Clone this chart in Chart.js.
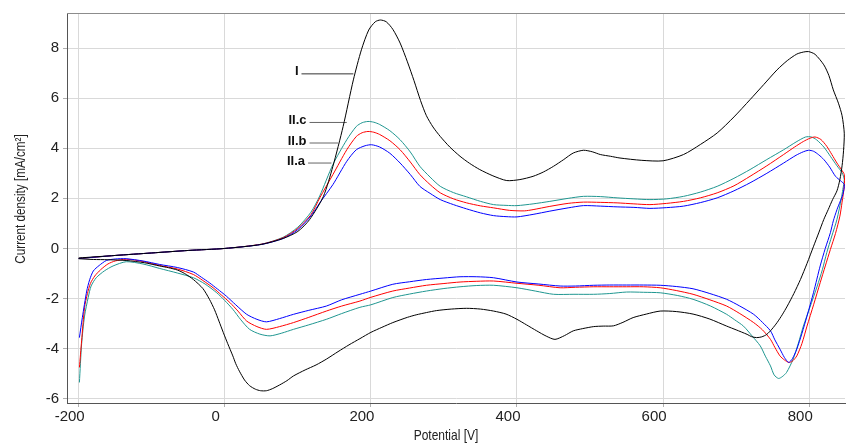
<!DOCTYPE html>
<html>
<head>
<meta charset="utf-8">
<script src="https://cdn.jsdelivr.net/npm/chart.js@4/dist/chart.umd.min.js"></script>
<style>
  html, body { margin: 0; padding: 0; background: #fff; }
  canvas { display: block; }
</style>
</head>
<body>
<canvas id="cv" width="846" height="445"></canvas>
<script>
// Axis ticks
const xTicks = [-200, 0, 200, 400, 600, 800];
const yTicks = [-6, -4, -2, 0, 2, 4, 6, 8];

// Curve I (black) - forward scan then reverse scan, [potential, current density]
const curveI = [
    [-200,-0.38],[-150,-0.28],[-100,-0.18],[-50,-0.08],[0,0],[50,0.16],[80,0.4],[100,0.68],[116,1.15],[135,2.08],
    [148,3.28],[162,4.87],[176,6.73],[187,7.93],[197,8.72],[206,9.05],[213,9.12],[221,9.05],[230,8.75],[240,8.2],
    [250,7.45],[259,6.7],[268,5.9],[276,5.3],[285,4.85],[295,4.47],[308,4.05],[322,3.68],[335,3.4],[349,3.15],
    [367,2.9],[386,2.71],[404,2.75],[422,2.88],[436,3.05],[450,3.28],[464,3.55],[477,3.81],[491,3.92],[503,3.86],
    [514,3.75],[528,3.68],[541,3.61],[570,3.52],[600,3.5],[628,3.75],[651,4.15],[674,4.61],[697,5.25],[719,5.94],
    [738,6.55],[756,7.13],[770,7.5],[783,7.76],[792,7.84],[799,7.86],[808,7.75],[820,7.33],[827,6.9],[833,6.33],
    [840,5.8],[845,5.3],[848,4.6],[847,3.9],[845,3.3],[842,2.75],
    [838,2.3],[832,1.95],[826,1.55],[820,1.16],[813,0.62],[806,0.09],[797,-0.6],[788,-1.24],[779,-1.8],[770,-2.3],
    [763,-2.65],[756,-2.96],[749,-3.22],[742,-3.43],[735,-3.53],[728,-3.56],[721,-3.52],[715,-3.43],[700,-3.25],[687,-3.1],
    [664,-2.82],[641,-2.62],[618,-2.52],[596,-2.5],[577,-2.62],[559,-2.76],[545,-2.95],[532,-3.09],[518,-3.1],[505,-3.12],
    [490,-3.2],[477,-3.29],[465,-3.48],[452,-3.63],[440,-3.5],[427,-3.29],[413,-3.05],[400,-2.83],[385,-2.62],[368,-2.5],
    [350,-2.42],[331,-2.39],[310,-2.42],[290,-2.48],[276,-2.56],[262,-2.65],[250,-2.75],[230,-2.96],[215,-3.15],[200,-3.35],
    [185,-3.6],[170,-3.85],[155,-4.12],[139,-4.42],[125,-4.65],[110,-4.85],[94,-5.09],[85,-5.28],
    [75,-5.45],[65,-5.6],[57,-5.68],[49,-5.68],[42,-5.62],[34,-5.48],[27,-5.25],[20,-4.9],[15,-4.6],[11,-4.29],
    [4,-3.8],[-2,-3.36],[-8,-2.9],[-14,-2.45],[-21,-2.03],[-30,-1.6],[-43,-1.24],[-55,-1.0],[-65,-0.86],[-77,-0.77],
    [-89,-0.7],[-110,-0.57],[-135,-0.48],[-160,-0.45],[-180,-0.44],[-200,-0.41]
];

// Curve II.c (teal)
const curveIIc = [
    [-200,-0.4],[-150,-0.28],[-100,-0.18],[-50,-0.08],[0,0],[50,0.17],[80,0.45],[100,0.85],[118,1.45],[130,2.1],
    [148,3.35],[167,4.34],[180,4.87],[188,5.02],[196,5.07],[204,5.04],[212,4.95],[226,4.7],[240,4.34],[254,3.85],
    [267,3.28],[281,2.85],[295,2.48],[313,2.23],[331,2.06],[350,1.88],[368,1.75],[385,1.72],[400,1.71],[422,1.78],
    [445,1.88],[470,2.0],[491,2.08],[514,2.07],[537,2.02],[560,1.98],[582,1.95],[605,1.98],[628,2.08],[651,2.25],
    [674,2.48],[697,2.8],[719,3.15],[742,3.55],[765,3.94],[782,4.25],[795,4.45],[803,4.45],[810,4.34],[820,4.05],
    [829,3.68],[838,3.3],[845,3.02],[848,2.75],
    [846,2.35],[844,2.0],[838,1.16],[831,0.5],[824,-0.17],[818,-0.85],[811,-1.5],[801,-2.35],[792,-3.1],[785,-3.8],
    [778,-4.42],[769,-4.95],[763,-5.12],[758,-5.19],[752,-5.05],[747,-4.69],[740,-4.3],[733,-3.89],[722,-3.5],[710,-3.1],
    [698,-2.85],[687,-2.63],[665,-2.3],[641,-2.03],[620,-1.88],[596,-1.77],[573,-1.75],[550,-1.74],[527,-1.8],[505,-1.83],
    [478,-1.83],[450,-1.83],[425,-1.7],[400,-1.57],[368,-1.47],[345,-1.48],[322,-1.53],[300,-1.6],[276,-1.7],[253,-1.82],
    [230,-1.96],[200,-2.25],[185,-2.35],[160,-2.6],[139,-2.83],[115,-3.05],[94,-3.23],[78,-3.38],[62,-3.49],[48,-3.42],
    [34,-3.23],[22,-2.85],[11,-2.43],[0,-2.08],[-11,-1.77],[-27,-1.42],[-43,-1.17],[-65,-0.98],[-89,-0.8],[-112,-0.62],
    [-135,-0.53],[-153,-0.7],[-165,-0.9],[-176,-1.17],[-183,-1.5],[-187,-1.96],[-192,-2.7],[-196,-3.82],[-199,-5.35]
];

// Curve II.b (red)
const curveIIb = [
    [-200,-0.4],[-150,-0.28],[-100,-0.18],[-50,-0.08],[0,0],[50,0.17],[80,0.43],[100,0.8],[118,1.35],[130,2.02],
    [148,2.95],[167,3.94],[180,4.47],[188,4.62],[196,4.67],[204,4.64],[212,4.55],[226,4.3],[240,3.94],[254,3.45],
    [267,2.95],[281,2.55],[295,2.22],[313,1.98],[331,1.82],[350,1.7],[368,1.62],[390,1.52],[410,1.5],[422,1.55],
    [445,1.68],[470,1.8],[491,1.85],[514,1.84],[537,1.82],[560,1.78],[582,1.75],[605,1.8],[628,1.88],[651,2.02],
    [674,2.22],[697,2.5],[719,2.88],[742,3.3],[765,3.75],[780,4.05],[792,4.27],[801,4.4],[808,4.45],[816,4.35],
    [824,4.08],[831,3.75],[838,3.41],[844,3.15],[848,2.95],
    [848,2.48],[845,1.85],[842,1.29],[836,0.6],[829,-0.04],[822,-0.7],[815,-1.37],[806,-2.25],[797,-3.1],[790,-3.8],
    [783,-4.29],[777,-4.5],[772,-4.55],[766,-4.45],[760,-4.29],[753,-3.95],[747,-3.63],[736,-3.25],[724,-2.96],[705,-2.6],
    [687,-2.3],[664,-2.05],[641,-1.83],[618,-1.68],[596,-1.57],[573,-1.53],[550,-1.53],[527,-1.53],[505,-1.53],[480,-1.55],
    [459,-1.57],[430,-1.47],[400,-1.39],[368,-1.3],[345,-1.31],[322,-1.34],[300,-1.4],[276,-1.47],[253,-1.58],[230,-1.7],
    [200,-1.95],[185,-2.1],[160,-2.3],[139,-2.5],[115,-2.75],[94,-2.96],[75,-3.12],[57,-3.23],[44,-3.12],[30,-2.9],
    [18,-2.5],[7,-2.16],[-5,-1.85],[-16,-1.57],[-30,-1.28],[-43,-1.04],[-65,-0.82],[-89,-0.68],[-112,-0.52],[-135,-0.43],
    [-150,-0.5],[-160,-0.62],[-170,-0.85],[-178,-1.1],[-184,-1.4],[-188,-1.8],[-192,-2.36],[-196,-3.69],[-199,-4.75]
];

// Curve II.a (blue)
const curveIIa = [
    [-200,-0.4],[-150,-0.28],[-100,-0.18],[-50,-0.08],[0,0],[50,0.16],[80,0.4],[100,0.75],[118,1.3],[130,1.82],
    [148,2.55],[167,3.48],[180,3.94],[192,4.1],[201,4.14],[212,4.05],[226,3.8],[240,3.41],[254,2.95],[267,2.48],
    [281,2.2],[295,1.95],[313,1.75],[331,1.58],[350,1.42],[368,1.31],[385,1.27],[400,1.26],[422,1.36],[445,1.49],
    [470,1.62],[491,1.71],[514,1.69],[537,1.66],[560,1.64],[582,1.6],[605,1.63],[628,1.69],[651,1.83],[674,2.02],
    [697,2.3],[719,2.62],[742,3.0],[765,3.41],[782,3.72],[792,3.86],[799,3.92],[806,3.88],[813,3.74],[820,3.55],
    [828,3.25],[836,2.88],[843,2.7],[848,2.55],
    [846,2.15],[842,1.85],[838,1.55],[833,1.1],[829,0.63],[822,0.0],[815,-0.7],[806,-1.75],[797,-2.7],[790,-3.4],
    [783,-4.02],[777,-4.4],[772,-4.55],[766,-4.35],[760,-4.02],[753,-3.65],[747,-3.29],[736,-2.95],[724,-2.63],[705,-2.3],
    [687,-2.03],[664,-1.8],[641,-1.61],[618,-1.52],[596,-1.47],[573,-1.46],[550,-1.46],[527,-1.46],[505,-1.47],[480,-1.5],
    [459,-1.5],[430,-1.42],[400,-1.34],[368,-1.17],[345,-1.13],[322,-1.13],[300,-1.18],[276,-1.24],[253,-1.33],[230,-1.43],
    [200,-1.7],[185,-1.83],[160,-2.05],[139,-2.3],[115,-2.47],[94,-2.63],[75,-2.8],[57,-2.93],[44,-2.83],[30,-2.63],
    [15,-2.25],[2,-1.9],[-10,-1.62],[-21,-1.37],[-32,-1.15],[-43,-0.94],[-65,-0.76],[-89,-0.64],[-112,-0.5],[-135,-0.41],
    [-150,-0.42],[-162,-0.48],[-172,-0.68],[-180,-0.9],[-185,-1.25],[-189,-1.7],[-195,-2.76],[-199,-3.56]
];

// Curve labels with leader lines (start / end in data units)
const labelNames = ['I', 'II.c', 'II.b', 'II.a'];
const leaderStart = [[105, 6.97], [116, 5.03], [116, 4.21], [114, 3.41]];
const leaderEnd = [[176, 6.97], [167, 5.03], [155, 4.21], [146, 3.41]];

const toXY = arr => arr.map(p => ({ x: p[0], y: p[1] }));

function curveSet(label, arr, color) {
    return {
        label: label,
        data: toXY(arr),
        borderColor: color,
        borderWidth: 1,
        showLine: true,
        pointRadius: 0,
        tension: 0.25
    };
}

const datasets = [
    curveSet('I', curveI, '#000000'),
    curveSet('II.a', curveIIa, '#0000ff'),
    curveSet('II.b', curveIIb, '#ff0000'),
    curveSet('II.c', curveIIc, '#1f9690')
];

labelNames.forEach((name, i) => {
    datasets.push({
        label: 'leader ' + name,
        data: toXY([leaderStart[i], leaderEnd[i]]),
        borderColor: i === 0 ? '#333333' : '#666666',
        borderWidth: 1,
        showLine: true,
        pointRadius: 0,
        tension: 0
    });
});

// Extra drawing: curve names, top border, axis titles
const decorations = {
    id: 'decorations',
    afterDraw(chart) {
        const ctx = chart.ctx;
        const xs = chart.scales.x, ys = chart.scales.y;
        const area = chart.chartArea;
        ctx.save();

        // top border of plot
        ctx.strokeStyle = '#8c8c8c';
        ctx.lineWidth = 1;
        ctx.beginPath();
        ctx.moveTo(area.left, area.top + 0.5);
        ctx.lineTo(area.right, area.top + 0.5);
        ctx.stroke();

        // curve names
        ctx.fillStyle = '#111';
        ctx.font = 'bold 13px "Liberation Sans", Arial, sans-serif';
        ctx.textAlign = 'right';
        ctx.textBaseline = 'middle';
        labelNames.forEach((name, i) => {
            const px = xs.getPixelForValue(leaderStart[i][0]);
            const py = ys.getPixelForValue(leaderStart[i][1]);
            ctx.fillText(name, px - 3, py - 2);
        });

        // axis titles (condensed)
        ctx.fillStyle = '#222';
        ctx.font = '15px "Liberation Sans", Arial, sans-serif';
        ctx.textAlign = 'center';
        ctx.textBaseline = 'middle';

        ctx.save();
        ctx.translate(446, 436);
        ctx.scale(0.8, 1);
        ctx.fillText('Potential [V]', 0, 0);
        ctx.restore();

        ctx.save();
        ctx.translate(21, 199);
        ctx.rotate(-Math.PI / 2);
        ctx.scale(0.78, 1);
        ctx.fillText('Current density [mA/cm²]', 0, 0);
        ctx.restore();

        ctx.restore();
    }
};

const tickFont = { family: '"Liberation Sans", Arial, sans-serif', size: 15 };

new Chart(document.getElementById('cv').getContext('2d'), {
    type: 'scatter',
    data: { datasets: datasets },
    options: {
        responsive: false,
        animation: false,
        layout: { padding: { top: 13, right: 1, left: 0, bottom: 0 } },
        plugins: { legend: { display: false }, tooltip: { enabled: false } },
        scales: {
            x: {
                type: 'linear',
                min: -216,
                max: 849,
                afterBuildTicks: axis => { axis.ticks = xTicks.map(v => ({ value: v })); },
                afterFit: axis => { axis.height = 42; },
                grid: { color: '#d9d9d9', tickLength: 4, tickColor: '#b0b0b0' },
                border: { color: '#555', width: 1 },
                ticks: { font: tickFont, color: '#222', labelOffset: -9, padding: 1, maxRotation: 0 }
            },
            y: {
                type: 'linear',
                min: -6.17,
                max: 9.4,
                afterBuildTicks: axis => { axis.ticks = yTicks.map(v => ({ value: v })); },
                afterFit: axis => { axis.width = 67; },
                grid: { color: '#d9d9d9', tickLength: 4, tickColor: '#b0b0b0' },
                border: { color: '#555', width: 1 },
                ticks: { font: tickFont, color: '#222', padding: 4 }
            }
        }
    },
    plugins: [decorations]
});
</script>
</body>
</html>
